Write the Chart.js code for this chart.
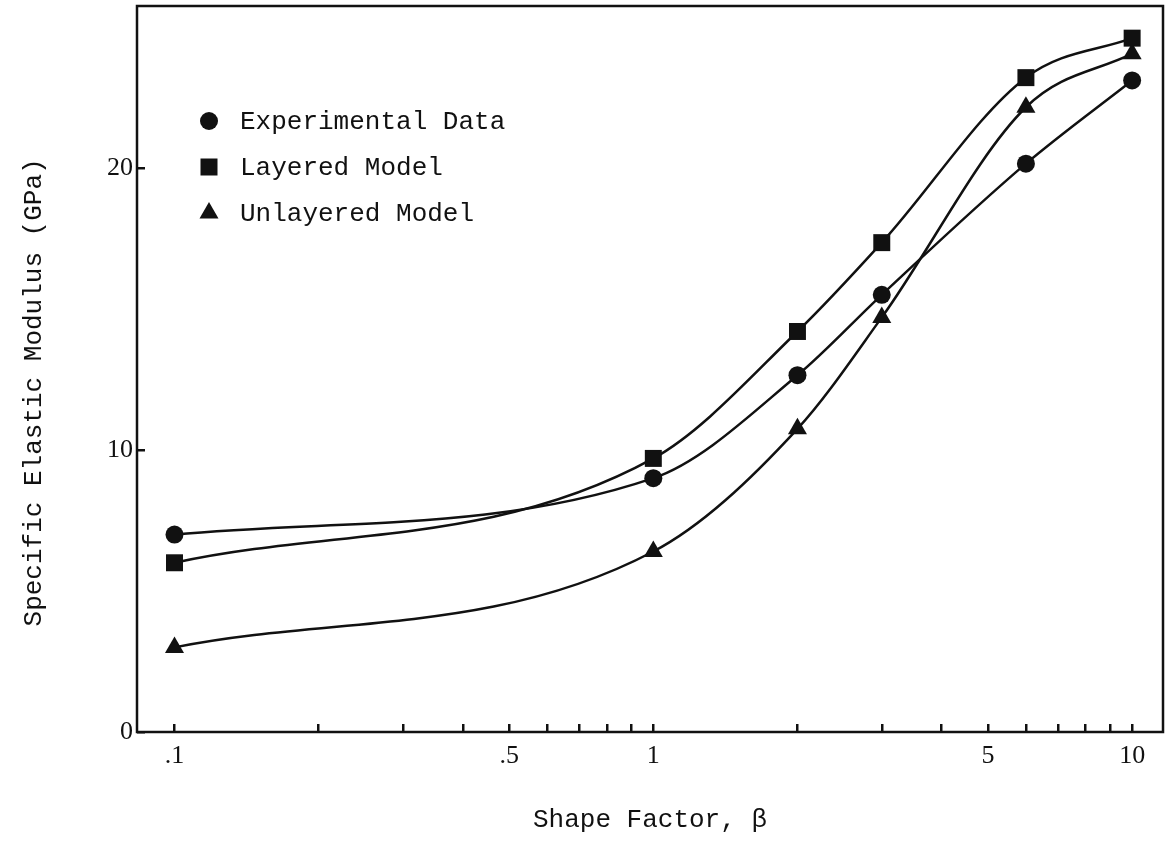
<!DOCTYPE html>
<html>
<head>
<meta charset="utf-8">
<script src="https://cdn.jsdelivr.net/npm/chart.js@4/dist/chart.umd.min.js"></script>
<style>
  html, body { margin: 0; padding: 0; background: #fff; }
  #wrap { width: 1167px; height: 841px; }
</style>
</head>
<body>
<div id="wrap"><canvas id="chart" width="1167" height="841"></canvas></div>
<script>
// values
const shapeFactor = [0.1, 1, 2, 3, 6, 10];
const experimental = [7.0, 9.0, 12.65, 15.5, 20.15, 23.1];
const layered = [6.0, 9.7, 14.2, 17.35, 23.2, 24.6];
const unlayered = [3.0, 6.4, 10.75, 14.7, 22.15, 24.05];

const seriesNames = ['Experimental Data', 'Layered Model', 'Unlayered Model'];
const seriesMarkers = ['circle', 'rect', 'triangle'];

const xTicks = [0.1, 0.2, 0.3, 0.4, 0.5, 0.6, 0.7, 0.8, 0.9, 1, 2, 3, 4, 5, 6, 7, 8, 9, 10];
const xTickLabels = ['.1', '', '', '', '.5', '', '', '', '', '1', '', '', '', '5', '', '', '', '', '10'];
const yTicks = [0, 10, 20];

const INK = '#111';
const mono = '"Liberation Mono", "DejaVu Sans Mono", monospace';
const serif = '"Liberation Serif", "DejaVu Serif", serif';

function toPoints(ys) {
    return shapeFactor.map((x, i) => ({ x: x, y: ys[i] }));
}

function makeDataset(label, ys, marker, radius) {
    return {
        label: label,
        data: toPoints(ys),
        borderColor: INK,
        backgroundColor: INK,
        borderWidth: 2.5,
        pointStyle: marker,
        pointRadius: radius,
        pointBorderWidth: 0,
        pointBackgroundColor: INK,
        cubicInterpolationMode: 'monotone',
        fill: false
    };
}

function drawMarker(ctx, style, x, y) {
    ctx.beginPath();
    if (style === 'circle') {
        ctx.arc(x, y, 9, 0, Math.PI * 2);
    } else if (style === 'rect') {
        ctx.rect(x - 8.5, y - 8.5, 17, 17);
    } else {
        ctx.moveTo(x, y - 11);
        ctx.lineTo(x + 9.5, y + 5.5);
        ctx.lineTo(x - 9.5, y + 5.5);
        ctx.closePath();
    }
    ctx.fill();
}

// legend sits inside the plot, top left
const insetLegend = {
    id: 'insetLegend',
    afterDatasetsDraw(chart) {
        const ctx = chart.ctx;
        ctx.save();
        ctx.fillStyle = INK;
        ctx.font = '26px ' + mono;
        ctx.textBaseline = 'middle';
        seriesNames.forEach((name, i) => {
            const y = 121 + i * 46;
            drawMarker(ctx, seriesMarkers[i], 209, y);
            ctx.fillText(name, 240, y + 1);
        });
        ctx.restore();
    }
};

// closed box round the plot
const frame = {
    id: 'frame',
    afterDraw(chart) {
        const a = chart.chartArea;
        const ctx = chart.ctx;
        ctx.save();
        ctx.strokeStyle = INK;
        ctx.lineWidth = 2.5;
        ctx.strokeRect(a.left, a.top, a.right - a.left, a.bottom - a.top);
        ctx.restore();
    }
};

new Chart(document.getElementById('chart'), {
    type: 'line',
    data: {
        datasets: [
            makeDataset(seriesNames[0], experimental, 'circle', 9),
            makeDataset(seriesNames[1], layered, 'rect', 12),
            makeDataset(seriesNames[2], unlayered, 'triangle', 11)
        ]
    },
    options: {
        responsive: false,
        animation: false,
        devicePixelRatio: 1,
        layout: { autoPadding: false, padding: { top: 6, right: 4, left: 0, bottom: 0 } },
        plugins: {
            legend: { display: false },
            tooltip: { enabled: false }
        },
        scales: {
            x: {
                type: 'logarithmic',
                min: 0.0835,
                max: 11.6,
                border: { display: false },
                grid: {
                    display: true,
                    drawOnChartArea: false,
                    drawTicks: true,
                    tickLength: -8,
                    color: INK,
                    lineWidth: 2.5
                },
                afterBuildTicks: (scale) => {
                    scale.ticks = xTicks.map(v => ({ value: v }));
                },
                afterFit: (scale) => {
                    scale.height = 109;
                    scale.paddingLeft = 0;
                    scale.paddingRight = 0;
                },
                ticks: {
                    autoSkip: false,
                    maxRotation: 0,
                    padding: 17,
                    color: INK,
                    font: { family: serif, size: 26 },
                    callback: (value, index) => xTickLabels[index]
                },
                title: {
                    display: true,
                    text: 'Shape Factor, β',
                    color: INK,
                    font: { family: mono, size: 26, lineHeight: 1.2 },
                    padding: { top: 0, bottom: 5 }
                }
            },
            y: {
                type: 'linear',
                min: 0,
                max: 25.74,
                border: { display: false },
                grid: {
                    display: true,
                    drawOnChartArea: false,
                    drawTicks: true,
                    tickLength: -8,
                    color: INK,
                    lineWidth: 2.5
                },
                afterBuildTicks: (scale) => {
                    scale.ticks = yTicks.map(v => ({ value: v }));
                },
                afterFit: (scale) => {
                    scale.width = 137;
                    scale.paddingTop = 0;
                    scale.paddingBottom = 0;
                },
                ticks: {
                    padding: 12,
                    color: INK,
                    font: { family: serif, size: 26 }
                },
                title: {
                    display: true,
                    text: 'Specific Elastic Modulus (GPa)   ',
                    color: INK,
                    font: { family: mono, size: 26, lineHeight: 1.2 },
                    padding: { top: 19, bottom: 0 }
                }
            }
        }
    },
    plugins: [insetLegend, frame]
});
</script>
</body>
</html>
